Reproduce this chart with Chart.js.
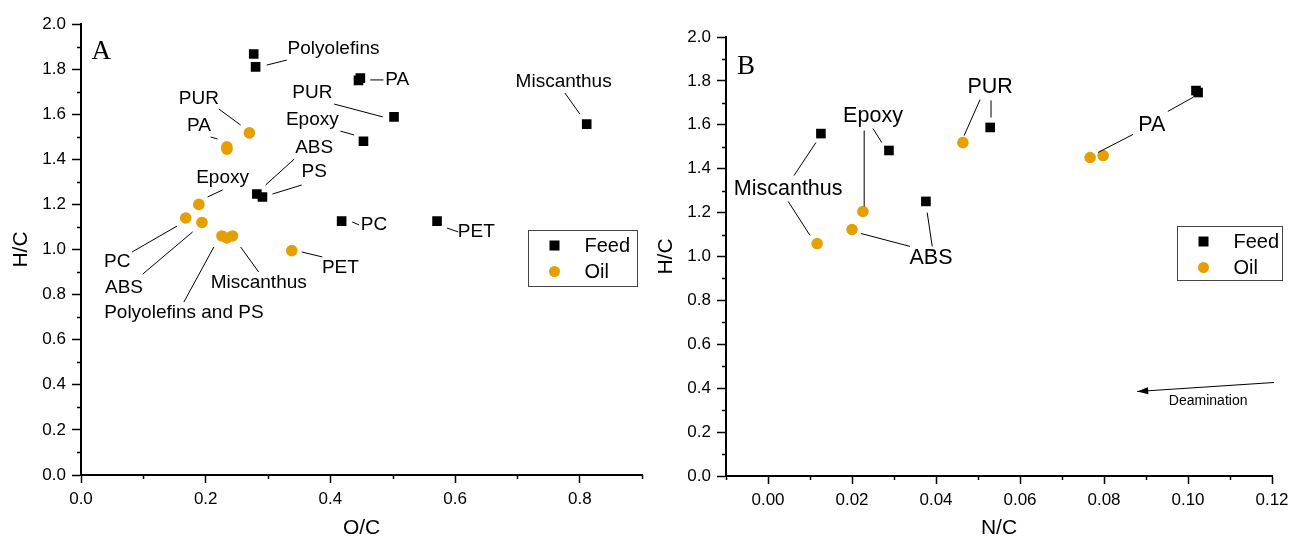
<!DOCTYPE html>
<html>
<head>
<meta charset="utf-8">
<script src="https://cdn.jsdelivr.net/npm/chart.js@4.4.1/dist/chart.umd.min.js"></script>
<style>
  body { margin: 0; background: #fff; }
  #wrap { position: relative; width: 1290px; height: 541px; }
  canvas { position: absolute; top: 0; }
</style>
</head>
<body>
<div id="wrap">
  <canvas id="chartA" width="649" height="541" style="left:0"></canvas>
  <canvas id="chartB" width="645" height="541" style="left:645px"></canvas>
</div>
<script>
// --- panel A : H/C vs O/C ---
const feedNamesA = ['Polyolefins', 'Polyolefins', 'PA', 'PA', 'PUR', 'Epoxy', 'ABS', 'PS', 'PC', 'PET', 'Miscanthus'];
const feedOC = [0.277, 0.280, 0.445, 0.448, 0.502, 0.453, 0.282, 0.291, 0.418, 0.571, 0.811];
const feedHC_A = [1.867, 1.810, 1.750, 1.760, 1.588, 1.480, 1.246, 1.233, 1.126, 1.126, 1.556];

const oilNamesA = ['PUR', 'PA', 'PA', 'Epoxy', 'PC', 'ABS', 'Polyolefins', 'PS', 'Miscanthus', 'PET'];
const oilOC = [0.270, 0.234, 0.234, 0.189, 0.168, 0.194, 0.226, 0.234, 0.243, 0.338];
const oilHC_A = [1.517, 1.455, 1.445, 1.200, 1.140, 1.120, 1.060, 1.051, 1.060, 0.995];

// --- panel B : H/C vs N/C ---
const feedNamesB = ['Miscanthus', 'Epoxy', 'ABS', 'PUR', 'PA', 'PA'];
const feedNC = [0.0126, 0.0288, 0.0376, 0.0529, 0.1019, 0.1024];
const feedHC_B = [1.560, 1.483, 1.251, 1.588, 1.756, 1.747];

const oilNamesB = ['Miscanthus', 'ABS', 'Epoxy', 'PUR', 'PA', 'PA'];
const oilNC = [0.0117, 0.0200, 0.0226, 0.0464, 0.0767, 0.0798];
const oilHC_B = [1.059, 1.123, 1.205, 1.519, 1.451, 1.460];

// annotation labels [text, x, y] and leader lines [x1, y1, x2, y2], in data units
const labelsA = [
  ['Polyolefins', 0.405, 1.889], ['PA', 0.507, 1.752], ['PUR', 0.371, 1.694],
  ['Epoxy', 0.371, 1.574], ['ABS', 0.374, 1.450], ['PS', 0.374, 1.344],
  ['PC', 0.470, 1.109], ['PET', 0.634, 1.078], ['Miscanthus', 0.774, 1.743],
  ['PUR', 0.189, 1.667], ['PA', 0.189, 1.548], ['Epoxy', 0.227, 1.317],
  ['PC', 0.058, 0.945], ['ABS', 0.069, 0.829], ['Polyolefins and PS', 0.165, 0.718],
  ['Miscanthus', 0.285, 0.851], ['PET', 0.416, 0.918]
];
const linesA = [
  [0.298, 1.818, 0.330, 1.840], [0.464, 1.752, 0.485, 1.752], [0.406, 1.645, 0.484, 1.588],
  [0.416, 1.525, 0.438, 1.508], [0.342, 1.401, 0.296, 1.286], [0.354, 1.286, 0.307, 1.246],
  [0.435, 1.122, 0.446, 1.109], [0.587, 1.095, 0.605, 1.078], [0.776, 1.694, 0.800, 1.601],
  [0.221, 1.623, 0.256, 1.552], [0.208, 1.499, 0.219, 1.490], [0.227, 1.264, 0.203, 1.233],
  [0.082, 0.989, 0.154, 1.104], [0.099, 0.891, 0.179, 1.078], [0.165, 0.767, 0.213, 1.011],
  [0.285, 0.900, 0.256, 1.011], [0.354, 0.989, 0.387, 0.967]
];
const labelsB = [
  ['Miscanthus', 0.0048, 1.305], ['Epoxy', 0.0250, 1.642], ['ABS', 0.0388, 0.995],
  ['PUR', 0.0529, 1.770], ['PA', 0.0914, 1.601]
];
const linesB = [
  [0.0062, 1.369, 0.0114, 1.519], [0.0048, 1.251, 0.0100, 1.096],
  [0.0229, 1.574, 0.0229, 1.228], [0.0250, 1.583, 0.0271, 1.519],
  [0.0221, 1.105, 0.0338, 1.046], [0.0379, 1.200, 0.0391, 1.046],
  [0.0505, 1.715, 0.0467, 1.551], [0.0531, 1.711, 0.0531, 1.633],
  [0.0869, 1.556, 0.0786, 1.474], [0.0952, 1.661, 0.1012, 1.725]
];

const FONT = "'Liberation Sans', Arial, sans-serif";
const OIL = '#E69F00';

const isMajor = (v, step) => Math.abs(v / step - Math.round(v / step)) < 1e-6;

// draws minor ticks, leader lines, labels, panel letter, arrow and the boxed legend
const notes = {
  id: 'notes',
  afterDraw(chart, args, o) {
    const { ctx } = chart;
    const xs = chart.scales.x, ys = chart.scales.y;
    const px = v => xs.getPixelForValue(v), py = v => ys.getPixelForValue(v);
    ctx.save();

    ctx.strokeStyle = '#000';
    ctx.lineWidth = 1.5;
    xs.ticks.forEach(t => {
      if (isMajor(t.value, o.xMajor)) return;
      const x = Math.round(px(t.value)) + 0.5;
      ctx.beginPath(); ctx.moveTo(x, ys.bottom); ctx.lineTo(x, ys.bottom + 4); ctx.stroke();
    });
    ys.ticks.forEach(t => {
      if (isMajor(t.value, 0.2)) return;
      const y = Math.round(py(t.value)) + 0.5;
      ctx.beginPath(); ctx.moveTo(xs.left, y); ctx.lineTo(xs.left - 4, y); ctx.stroke();
    });

    ctx.lineWidth = 1;
    o.lines.forEach(l => {
      ctx.beginPath(); ctx.moveTo(px(l[0]), py(l[1])); ctx.lineTo(px(l[2]), py(l[3])); ctx.stroke();
    });

    ctx.fillStyle = '#000';
    ctx.textAlign = 'center';
    ctx.textBaseline = 'middle';
    ctx.font = o.labelSize + 'px ' + FONT;
    o.labels.forEach(l => ctx.fillText(l[0], px(l[1]), py(l[2])));

    ctx.textAlign = 'left';
    ctx.font = "27px 'Liberation Serif', 'Times New Roman', serif";
    ctx.fillText(o.letter[0], px(o.letter[1]), py(o.letter[2]));

    if (o.arrow) {
      const a = o.arrow;
      const x1 = px(a[0]), y1 = py(a[1]), x2 = px(a[2]), y2 = py(a[3]);
      ctx.beginPath(); ctx.moveTo(x1, y1); ctx.lineTo(x2, y2); ctx.stroke();
      const ang = Math.atan2(y2 - y1, x2 - x1);
      ctx.beginPath();
      ctx.moveTo(x2, y2);
      ctx.lineTo(x2 - 11 * Math.cos(ang) + 3.5 * Math.sin(ang), y2 - 11 * Math.sin(ang) - 3.5 * Math.cos(ang));
      ctx.lineTo(x2 - 11 * Math.cos(ang) - 3.5 * Math.sin(ang), y2 - 11 * Math.sin(ang) + 3.5 * Math.cos(ang));
      ctx.closePath(); ctx.fill();
      ctx.textAlign = 'center';
      ctx.font = '14px ' + FONT;
      ctx.fillText(o.arrowText[0], px(o.arrowText[1]), py(o.arrowText[2]));
    }

    // legend box
    const lg = o.legend;
    const bx = Math.round(px(lg.x)) + 0.5, by = Math.round(py(lg.y)) + 0.5;
    ctx.strokeStyle = '#444';
    ctx.lineWidth = 1;
    ctx.strokeRect(bx, by, lg.w, lg.h);
    ctx.font = '20px ' + FONT;
    ctx.textAlign = 'left';
    chart.data.datasets.forEach((ds, i) => {
      const cy = by + 15 + i * 26;
      const cx = bx + 26;
      ctx.fillStyle = ds.backgroundColor;
      if (ds.pointStyle === 'rect') {
        ctx.fillRect(cx - 5, cy - 5, 10, 10);
      } else {
        ctx.beginPath(); ctx.arc(cx, cy, 5.5, 0, Math.PI * 2); ctx.fill();
      }
      ctx.fillStyle = '#000';
      ctx.fillText(ds.label, bx + 56, cy + 1);
    });
    ctx.restore();
  }
};

function axis(min, max, step, major, digits, title, tickLen, titlePad, fit) {
  return {
    type: 'linear',
    min: min, max: max,
    border: { color: '#000', width: 2 },
    grid: {
      drawOnChartArea: false,
      tickLength: tickLen,
      tickWidth: 1.5,
      tickColor: c => isMajor(c.tick.value, major) ? '#000' : 'rgba(0,0,0,0)'
    },
    ticks: {
      stepSize: step,
      autoSkip: false,
      maxRotation: 0,
      color: '#000',
      padding: 6,
      font: { family: FONT, size: 17 },
      callback: v => isMajor(v, major) ? Number(v).toFixed(digits) : ''
    },
    title: {
      display: true, text: title, color: '#000',
      font: { family: FONT, size: 21 },
      padding: { top: titlePad, bottom: 0 }
    },
    afterFit: fit
  };
}

function makeChart(id, xs, ys, fxs, fys, xAxis, pad, noteOpts) {
  const feedPts = xs.map((v, i) => ({ x: v, y: ys[i] }));
  const oilPts = fxs.map((v, i) => ({ x: v, y: fys[i] }));
  return new Chart(document.getElementById(id), {
    type: 'scatter',
    data: {
      datasets: [
        { label: 'Feed', data: feedPts, pointStyle: 'rect', pointRadius: 6.8, backgroundColor: '#000', borderWidth: 0 },
        { label: 'Oil', data: oilPts, pointStyle: 'circle', pointRadius: 5.8, backgroundColor: OIL, borderWidth: 0 }
      ]
    },
    options: {
      responsive: false,
      animation: false,
      events: [],
      layout: { padding: pad },
      plugins: { legend: { display: false }, tooltip: { enabled: false }, notes: noteOpts },
      scales: {
        x: xAxis,
        y: axis(0, 2, 0.1, 0.2, 1, 'H/C', 9, 9, s => { s.width = 81; s.paddingTop = 0; s.paddingBottom = 0; })
      }
    },
    plugins: [notes]
  });
}

makeChart('chartA', feedOC, feedHC_A, oilOC, oilHC_A,
  axis(0, 0.9, 0.1, 0.2, 1, 'O/C', 8, 2, s => { s.height = 66; s.paddingLeft = 0; s.paddingRight = 0; }),
  { left: 0, right: 0, top: 24, bottom: 0 },
  {
    xMajor: 0.2, labels: labelsA, lines: linesA, labelSize: 19,
    letter: ['A', 0.017, 1.876],
    legend: { x: 0.717, y: 1.086, w: 109, h: 56 }
  });

makeChart('chartB', feedNC, feedHC_B, oilNC, oilHC_B,
  axis(-0.01, 0.12, 0.01, 0.02, 2, 'N/C', 8, 2, s => { s.height = 65; s.paddingLeft = 0; s.paddingRight = 0; }),
  { left: 0, right: 18, top: 37, bottom: 0 },
  {
    xMajor: 0.02, labels: labelsB, lines: linesB, labelSize: 21.5,
    letter: ['B', -0.0074, 1.866],
    arrow: [0.1205, 0.426, 0.0879, 0.385],
    arrowText: ['Deamination', 0.1048, 0.339],
    legend: { x: 0.0974, y: 1.137, w: 105, h: 54 }
  });
</script>
</body>
</html>
